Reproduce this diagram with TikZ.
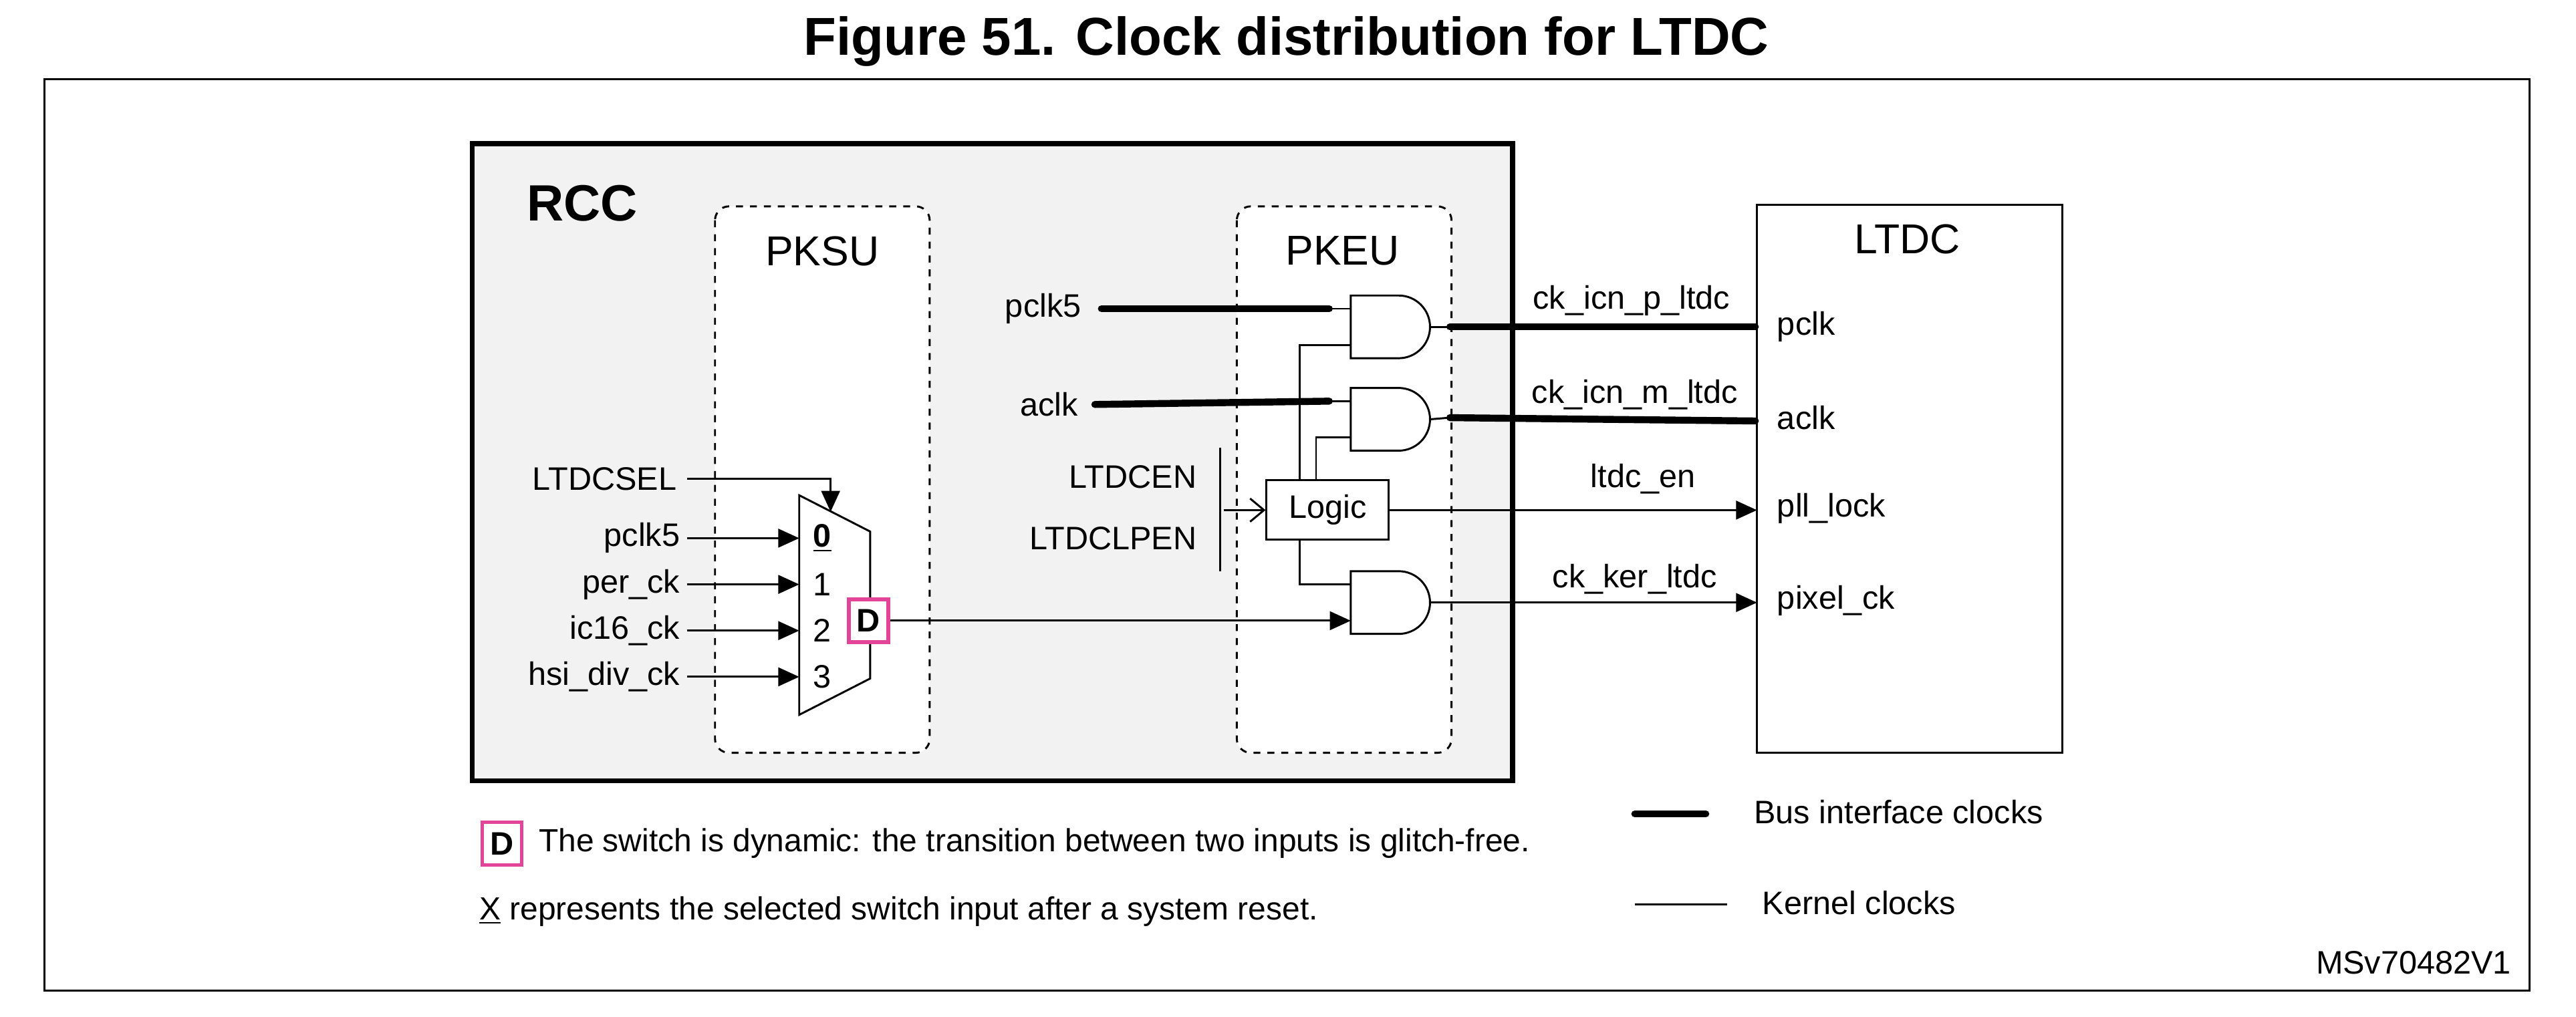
\documentclass[tikz,border=0pt]{standalone}
\usepackage{fontspec}
\setmainfont{Liberation Sans}
\usetikzlibrary{arrows.meta}
\definecolor{pinkD}{HTML}{E2449A}
\begin{document}
\begin{tikzpicture}[x=0.25mm,y=-0.25mm,
  thin/.style={line width=0.85pt},
  bus/.style={line width=3pt,line cap=round},
  arr/.style={thin,-{Triangle[length=9pt,width=8pt]}},
  lbl/.style={font=\fontsize{14}{16}\selectfont,inner sep=0pt},
  lblr/.style={lbl,anchor=east},
  lbll/.style={lbl,anchor=west},
  dbox/.style={draw=pinkD,line width=1.6pt,fill=white,minimum width=6mm,minimum height=6.5mm,inner sep=0pt,font=\fontsize{14}{16}\selectfont\bfseries},
  sub/.style={draw,dashed,thin,rounded corners=6pt,fill=white},
  andg/.style={thin,fill=white}]
\useasboundingbox (0,0) rectangle (1560,616);
\node[font=\fontsize{23}{26}\selectfont\bfseries] (title) at (779,25) {Figure 51. Clock distribution for LTDC};
\draw[thin] (27,48) rectangle (1532,600);
% RCC
\draw[line width=2.2pt,fill=black!5] (286,87) rectangle (916,473);
\node[font=\fontsize{22}{26}\selectfont\bfseries,anchor=west] (rcc) at (314,123) {RCC};
\draw[sub] (433,125) rectangle (563,456);
\draw[sub] (749,125) rectangle (879,456);
\node[font=\fontsize{18}{20}\selectfont] (pksu) at (498,152) {PKSU};
\node[font=\fontsize{18}{20}\selectfont] (pkeu) at (813,152) {PKEU};
% mux
\draw[thin,fill=white] (484,300) -- (527,322) -- (527,411) -- (484,433) -- cycle;
\coordinate (m0) at (484,326); \coordinate (m1) at (484,354);
\coordinate (m2) at (484,382); \coordinate (m3) at (484,410);
\node[lbl,font=\fontsize{14}{16}\selectfont\bfseries] (n0) at (498,326) {\underline{0}};
\node[lbl] (n1) at (498,354) {1};
\node[lbl] (n2) at (498,382) {2};
\node[lbl] (n3) at (498,410) {3};
\node[lblr] (s0) at (412,326) {pclk5};
\node[lblr] (s1) at (412,354) {per\_ck};
\node[lblr] (s2) at (412,382) {ic16\_ck};
\node[lblr] (s3) at (412,410) {hsi\_div\_ck};
\draw[arr] (s0.east)++(4,0) -- (m0);
\draw[arr] (s1.east)++(4,0) -- (m1);
\draw[arr] (s2.east)++(4,0) -- (m2);
\draw[arr] (s3.east)++(4,0) -- (m3);
\node[lblr] (sel) at (410,290) {LTDCSEL};
\coordinate (selin) at (503,310);
\draw[arr] (sel.east)++(6,0) -| (selin);
\node[dbox] (D) at (526,376) {D};
% AND gates
\foreach \n/\y in {g1/198,g2/254,g3/365}{
  \draw[andg] (818,\y-19) -- (847,\y-19) arc[start angle=-90,end angle=90,radius=19] -- (818,\y+19) -- cycle;
  \coordinate (\n a) at (818,\y-11);
  \coordinate (\n b) at (818,\y+11);
  \coordinate (\n o) at (866,\y);
}
\node[lblr] (pc) at (655,187) {pclk5};
\node[lblr] (ac) at (653,245) {aclk};
\draw[bus] (667,187) -- (805,187);
\draw[thin] (805,187) -- (g1a);
\draw[bus] (663,245) -- (805,243);
\draw[thin] (805,243) -- (g2a);
\node[draw,thin,minimum width=18.5mm,minimum height=9mm,inner sep=0pt,font=\fontsize{14}{16}\selectfont] (logic) at (804,309) {Logic};
\draw[thin] (g1b) -| (787,291);
\draw[thin] (g2b) -| (797,291);
\draw[thin] (787,327) |- (g3a);
\draw[arr] (D.east) -- (g3b);
\node[lblr] (en) at (725,289) {LTDCEN};
\node[lblr] (lpen) at (725,326) {LTDCLPEN};
\draw[thin] (739,271) -- (739,346);
\draw[thin,-{Straight Barb[length=6pt,width=10pt]}] (741,309) -- (logic.west);
% LTDC
\draw[thin] (1064,124) rectangle (1249,456);
\node[font=\fontsize{18}{20}\selectfont] (ltdc) at (1155,145) {LTDC};
\node[lbll] (pclk) at (1076,198) {pclk};
\node[lbll] (aclk) at (1076,253) {aclk};
\node[lbll] (pll) at (1076,308) {pll\_lock};
\node[lbll] (pix) at (1076,364) {pixel\_ck};
\draw[thin] (g1o) -- (878,198); \draw[bus] (878,198) -- (1063,198);
\draw[thin] (g2o) -- (878,253); \draw[bus] (878,253) -- (1063,255);
\draw[arr] (logic.east) -- (1064,309);
\draw[arr] (g3o) -- (1064,365);
\node[lbl] (l1) at (988,182) {ck\_icn\_p\_ltdc};
\node[lbl] (l2) at (990,239) {ck\_icn\_m\_ltdc};
\node[lbl] (l3) at (995,290) {ltdc\_en};
\node[lbl] (l4) at (990,351) {ck\_ker\_ltdc};
% legend
\node[dbox] (Dl) at (304,511) {D};
\node[lbll,font=\fontsize{13.8}{16}\selectfont] (t1) at (326,511) {The switch is dynamic: the transition between two inputs is glitch-free.};
\node[lbll,font=\fontsize{13.8}{16}\selectfont] (t2) at (290,552) {\underline{X} represents the selected switch input after a system reset.};
\draw[bus] (990,493) -- (1033,493);
\node[lbll] (b1) at (1062,492) {Bus interface clocks};
\draw[thin] (990,548) -- (1046,548);
\node[lbll] (b2) at (1067,547) {Kernel clocks};
\node[lbl,anchor=east] (ms) at (1521,583) {MSv70482V1};
\end{tikzpicture}
\end{document}
